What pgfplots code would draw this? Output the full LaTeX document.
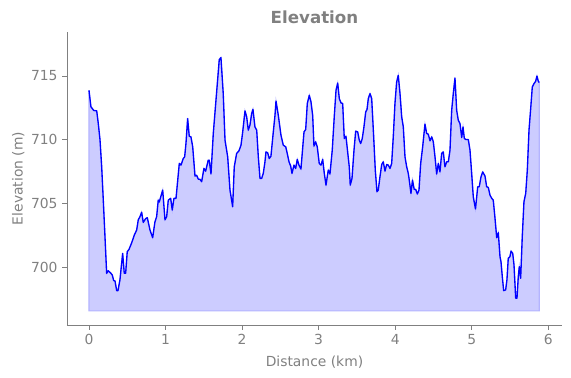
\documentclass[border=0pt]{standalone}
\usepackage{fontspec}
\setmainfont{DejaVu Sans}
\usepackage{pgfplots}
\pgfplotsset{compat=1.18}
\usepackage{pgfplotstable}
\usepgfplotslibrary{fillbetween}
\definecolor{fillc}{RGB}{204,204,255}
\definecolor{edgec}{RGB}{180,180,255}
\definecolor{mgray}{RGB}{128,128,128}
\pgfplotstableread{
x y
0.000 713.88
0.026 712.57
0.043 712.45
0.061 712.30
0.101 712.26
0.121 711.30
0.144 710.00
0.166 707.87
0.187 705.25
0.209 702.40
0.231 699.50
0.252 699.70
0.287 699.50
0.304 699.37
0.323 698.93
0.340 698.90
0.362 698.14
0.379 698.14
0.405 699.00
0.427 700.30
0.440 701.07
0.461 699.50
0.479 699.50
0.500 701.20
0.523 701.38
0.558 701.90
0.592 702.50
0.623 702.90
0.644 703.70
0.666 703.95
0.688 704.30
0.709 703.50
0.741 703.80
0.762 703.87
0.797 702.90
0.832 702.30
0.862 703.55
0.884 703.95
0.905 705.25
0.918 705.10
0.963 706.04
0.993 703.70
1.015 703.95
1.036 705.25
1.067 705.39
1.088 704.47
1.110 705.39
1.137 705.39
1.180 708.13
1.202 708.00
1.232 708.52
1.250 708.65
1.267 709.70
1.289 711.66
1.310 710.27
1.332 710.22
1.355 709.44
1.385 707.14
1.407 707.20
1.428 706.90
1.450 706.88
1.472 706.70
1.502 707.74
1.524 707.53
1.558 708.39
1.571 708.39
1.594 707.30
1.624 710.49
1.659 713.10
1.702 716.29
1.724 716.45
1.754 713.60
1.777 709.96
1.812 708.65
1.842 706.04
1.877 704.73
1.898 707.87
1.929 708.92
1.959 709.12
1.986 709.57
2.008 710.60
2.038 712.26
2.060 711.79
2.081 710.75
2.103 711.14
2.125 712.05
2.142 712.39
2.168 711.00
2.191 710.75
2.212 708.65
2.234 706.96
2.256 706.96
2.277 707.35
2.299 708.26
2.312 709.04
2.334 708.97
2.355 708.52
2.377 708.70
2.408 710.61
2.430 711.92
2.443 713.04
2.473 711.92
2.508 710.35
2.538 709.57
2.570 709.44
2.590 708.92
2.613 708.26
2.635 707.92
2.652 707.35
2.678 708.00
2.700 707.74
2.721 708.45
2.743 708.00
2.769 707.69
2.809 710.61
2.831 710.80
2.852 712.84
2.878 713.49
2.900 712.97
2.922 711.92
2.939 709.49
2.961 709.83
2.982 709.44
3.008 708.13
3.031 708.00
3.053 708.45
3.074 707.35
3.096 706.43
3.126 707.61
3.148 707.30
3.178 709.18
3.204 711.79
3.227 713.88
3.249 714.45
3.270 713.22
3.292 712.89
3.314 712.84
3.335 710.09
3.357 710.27
3.379 709.04
3.400 707.87
3.413 706.43
3.436 706.96
3.462 709.18
3.484 710.67
3.510 710.61
3.531 709.96
3.549 709.70
3.570 710.09
3.592 711.00
3.615 712.18
3.632 712.37
3.649 713.23
3.671 713.62
3.693 713.23
3.719 710.22
3.740 707.61
3.762 705.91
3.779 706.04
3.801 707.08
3.824 708.05
3.844 708.26
3.867 707.53
3.889 708.05
3.910 708.00
3.932 707.74
3.954 708.13
3.975 710.22
3.997 712.84
4.019 714.53
4.040 715.06
4.063 713.62
4.085 711.79
4.106 711.00
4.128 708.65
4.150 707.87
4.171 707.35
4.184 706.82
4.206 705.78
4.226 706.82
4.248 706.10
4.268 706.09
4.289 705.73
4.311 706.04
4.333 708.13
4.359 709.44
4.389 711.22
4.411 710.49
4.432 710.43
4.455 709.91
4.477 710.22
4.498 709.83
4.520 708.65
4.542 707.30
4.563 708.13
4.585 707.47
4.607 708.92
4.628 709.04
4.650 707.87
4.673 708.26
4.694 708.26
4.716 709.18
4.738 712.31
4.759 713.62
4.781 714.85
4.803 712.31
4.824 711.53
4.846 711.27
4.869 710.17
4.886 711.00
4.903 710.09
4.925 710.01
4.955 710.01
4.977 709.18
4.999 707.35
5.020 705.51
5.049 704.55
5.078 706.30
5.098 706.30
5.121 707.08
5.143 707.47
5.173 707.14
5.195 706.30
5.216 706.25
5.238 705.65
5.261 705.39
5.281 705.25
5.304 703.82
5.326 702.30
5.347 702.69
5.369 700.81
5.382 700.42
5.399 699.24
5.417 698.14
5.443 698.20
5.460 699.00
5.477 700.68
5.499 700.81
5.513 701.25
5.535 701.07
5.552 700.16
5.574 697.55
5.591 697.55
5.608 699.24
5.621 700.02
5.639 699.11
5.660 702.38
5.682 705.12
5.705 705.78
5.726 707.61
5.748 710.75
5.770 712.45
5.791 714.14
5.813 714.40
5.835 714.59
5.852 715.00
5.869 714.59
5.882 714.49
}\elev
\begin{document}
\begin{tikzpicture}
\begin{axis}[
  at={(0,0)}, anchor=south west,
  scale only axis,
  width=371.25pt, height=219.75pt,
  xmin=-0.287, xmax=6.179,
  ymin=695.44, ymax=718.46,
  axis lines*=left,
  axis line style={mgray, line width=0.6pt},
  xtick={0,1,2,3,4,5,6},
  ytick={700,705,710,715},
  tick style={mgray, line width=0.6pt},
  tick align=outside,
  major tick length=3.6pt,
  tick label style={font=\fontsize{10.4}{12}\selectfont, text=mgray},
  /pgf/number format/assume math mode=true,
  xlabel={Distance (km)},
  ylabel={Elevation (m)},
  label style={font=\fontsize{10.4}{12}\selectfont, text=mgray},
  xlabel style={yshift=-1pt},
  ylabel style={yshift=-2pt},
  title={\textbf{Elevation}},
  title style={font=\fontsize{12.5}{14}\selectfont, text=mgray, yshift=-3.5pt},
]
\addplot[name path=top, draw=none, forget plot] table {\elev};
\addplot[name path=bot, draw=none, forget plot] coordinates {(0,696.55) (5.882,696.55)};
\addplot[fill=fillc, draw=edgec, line width=0.8pt] fill between[of=top and bot];
\addplot[blue, line width=1pt, line join=round] table {\elev};
\end{axis}
\pgfresetboundingbox
\path[use as bounding box] (-50.25pt,-39.75pt) rectangle (378pt,243.75pt);
\end{tikzpicture}
\end{document}
